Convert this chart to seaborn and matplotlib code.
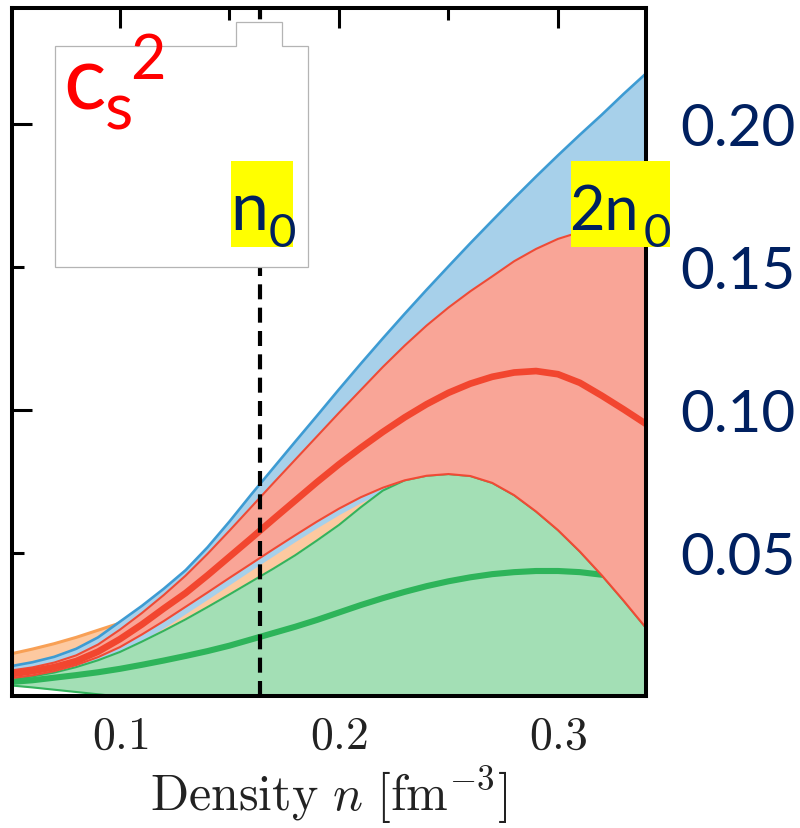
import matplotlib
matplotlib.use('Agg')
import matplotlib.pyplot as plt
import matplotlib.patches as mpatches
import seaborn as sns

sns.set_style('ticks')
plt.rcParams['font.family'] = ['Lato', 'DejaVu Sans']
plt.rcParams['mathtext.fontset'] = 'cm'

# density grid [fm^-3] and band edges / centre lines of c_s^2
dens = [0.05, 0.06, 0.07, 0.08, 0.09, 0.10, 0.11, 0.12, 0.13, 0.14,
        0.15, 0.16, 0.17, 0.18, 0.19, 0.20, 0.21, 0.22, 0.23, 0.24,
        0.25, 0.26, 0.27, 0.28, 0.29, 0.30, 0.31, 0.32, 0.33, 0.34]

blue_hi = [0.0104, 0.0118, 0.0137, 0.0165, 0.0205, 0.0260, 0.0315, 0.0375, 0.0440, 0.0520,
           0.0610, 0.0705, 0.0797, 0.0889, 0.0980, 0.1072, 0.1162, 0.1250, 0.1336, 0.1420,
           0.1502, 0.1583, 0.1662, 0.1740, 0.1816, 0.1890, 0.1962, 0.2032, 0.2105, 0.2175]
blue_lo = [0.0060, 0.0068, 0.0080, 0.0098, 0.0122, 0.0152, 0.0192, 0.0238, 0.0288, 0.0338,
           0.0389, 0.0440, 0.0490, 0.0540, 0.0588, 0.0634, 0.0676, 0.0712, 0.0745, 0.0770,
           0.0776, 0.0769, 0.0745, 0.0702, 0.0645, 0.0580, 0.0505, 0.0422, 0.0333, 0.0240]

orange_hi = [0.0147, 0.0164, 0.0183, 0.0205, 0.0230, 0.0255, 0.028, 0.032, 0.037, 0.043,
             0.049, 0.055, 0.061, 0.067, 0.073, 0.079, 0.084, 0.089, 0.093, 0.097,
             0.100, 0.102, 0.103, 0.104, 0.104, 0.103, 0.101, 0.099, 0.096, 0.093]

red_hi = [0.0089, 0.0100, 0.0117, 0.0142, 0.0180, 0.0232, 0.0290, 0.0353, 0.0421, 0.0497,
          0.0578, 0.0661, 0.0744, 0.0826, 0.0908, 0.0990, 0.1070, 0.1150, 0.1225, 0.1295,
          0.1358, 0.1415, 0.1467, 0.1520, 0.1563, 0.1598, 0.1622, 0.1636, 0.1644, 0.1648]
red_mid = [0.0076, 0.0087, 0.0101, 0.0122, 0.0155, 0.0199, 0.0250, 0.0306, 0.0360, 0.0422,
           0.0487, 0.0552, 0.0618, 0.0683, 0.0748, 0.0810, 0.0868, 0.0923, 0.0974, 0.1020,
           0.1060, 0.1092, 0.1116, 0.1131, 0.1136, 0.1125, 0.1095, 0.1050, 0.1002, 0.0952]
red_lo = [0.0062, 0.0072, 0.0087, 0.0108, 0.0136, 0.0171, 0.0215, 0.0262, 0.0312, 0.0362,
          0.0413, 0.0463, 0.0513, 0.0562, 0.0610, 0.0655, 0.0695, 0.0728, 0.0754, 0.0770,
          0.0776, 0.0769, 0.0745, 0.0702, 0.0645, 0.0580, 0.0505, 0.0422, 0.0333, 0.0240]

green_hi = [0.0057, 0.0068, 0.0082, 0.0101, 0.0125, 0.0154, 0.0190, 0.0228, 0.0268, 0.0311,
            0.0355, 0.0400, 0.0445, 0.0492, 0.0544, 0.0598, 0.0660, 0.0718, 0.0754, 0.0770,
            0.0776, 0.0769, 0.0745, 0.0702, 0.0645, 0.0580, 0.0505, 0.0422, 0.0333, 0.0240]
green_mid = [0.0049, 0.0055, 0.0064, 0.0073, 0.0083, 0.0095, 0.0109, 0.0124, 0.0140, 0.0157,
             0.0176, 0.0198, 0.0220, 0.0242, 0.0266, 0.0292, 0.0318, 0.0342, 0.0364, 0.0384,
             0.0401, 0.0415, 0.0426, 0.0433, 0.0437, 0.0437, 0.0433, 0.0424, 0.0412, 0.0398]
green_lo = [0.0037, 0.0030, 0.0022, 0.0014, 0.0006, -0.0002, -0.001, -0.002, -0.003, -0.004,
            -0.005, -0.006, -0.007, -0.008, -0.009, -0.01, -0.01, -0.01, -0.01, -0.01,
            -0.01, -0.01, -0.01, -0.01, -0.01, -0.01, -0.01, -0.01, -0.01, -0.01]

n_sat = 0.164
ytick_major = [0.10, 0.20]
ytick_minor = [0.05, 0.15]
xtick_major = [0.1, 0.2, 0.3]
xtick_minor = [0.15, 0.25]

navy = '#002060'

fig = plt.figure(figsize=(8, 8.29), dpi=100)
W, H = 800, 829
ax = fig.add_axes([12 / W, 1 - 697 / H, (646 - 12) / W, (697 - 8.5) / H])

# orange band (bottom layer)
ax.fill_between(dens, green_hi, orange_hi, color='#fdc9a0', lw=0, zorder=1)
sns.lineplot(x=dens, y=orange_hi, ax=ax, color='#f8a055', lw=2.2, zorder=1.2)

# blue band
ax.fill_between(dens, blue_lo, blue_hi, color='#a7d0ea', lw=0, zorder=2)
sns.lineplot(x=dens, y=blue_hi, ax=ax, color='#3d9bd3', lw=1.9, zorder=2.2)

# green band
ax.fill_between(dens, green_lo, green_hi, color='#a3dfb5', lw=0, zorder=3)
sns.lineplot(x=dens, y=green_hi, ax=ax, color='#33b35c', lw=1.5, zorder=3.2)
sns.lineplot(x=dens, y=green_lo, ax=ax, color='#33b35c', lw=1.5, zorder=3.2)
sns.lineplot(x=dens, y=green_mid, ax=ax, color='#2eb45a', lw=4.4, zorder=3.3)

# red band (top layer)
ax.fill_between(dens, red_lo, red_hi, color='#f9a597', lw=0, zorder=4)
sns.lineplot(x=dens, y=red_hi, ax=ax, color='#f04a35', lw=1.5, zorder=4.2)
sns.lineplot(x=dens, y=red_lo, ax=ax, color='#f04a35', lw=1.5, zorder=4.2)
sns.lineplot(x=dens, y=red_mid, ax=ax, color='#f2462f', lw=4.8, zorder=4.3)

ax.axvline(n_sat, color='black', lw=3.0, ls=(0, (3.6, 2.0)), zorder=5)

ax.set_xlim(0.0507, 0.3402)
ax.set_ylim(0, 0.2407)

for s in ax.spines.values():
    s.set_linewidth(2.9)
    s.set_color('black')
    s.set_zorder(6)

ax.set_xticks(xtick_major, labels=['$%g$' % v for v in xtick_major])
ax.set_xticks(xtick_minor, minor=True)
ax.set_yticks(ytick_major, labels=['%.2f' % v for v in ytick_major])
ax.set_yticks(ytick_minor, labels=['%.2f' % v for v in ytick_minor], minor=True)
ax.tick_params(which='both', direction='in', top=True, right=True, width=2.2, color='black')
ax.tick_params(which='major', length=14.5)
ax.tick_params(which='minor', length=8.5)
ax.tick_params(axis='x', which='major', labelsize=33, pad=13, labelcolor='#222222')
ax.tick_params(axis='y', which='both', labelleft=False, labelright=True,
               labelsize=42, pad=25, labelcolor=navy)
for lbl in ax.get_yticklabels(which='both'):
    lbl.set_fontfamily(['Lato', 'DejaVu Sans'])

ax.set_xlabel(r'$\mathrm{Density}\ n\ [\mathrm{fm}^{-3}]$', fontsize=36, color='#222222', labelpad=5)
ax.set_ylabel('')


def fx(px):
    return px / W


def fy(py):
    return 1 - py / H


# white inset box with a notch
box = mpatches.Polygon(
    [(fx(55), fy(268)), (fx(55), fy(47)), (fx(236), fy(47)), (fx(236), fy(23)),
     (fx(282), fy(23)), (fx(282), fy(47)), (fx(308), fy(47)), (fx(308), fy(268))],
    closed=True, transform=fig.transFigure, facecolor='white',
    edgecolor='#b4b4b4', lw=0.9, zorder=10)
fig.add_artist(box)

# yellow highlights
for x0, x1 in [(231, 293), (571, 670)]:
    fig.add_artist(mpatches.Rectangle((fx(x0), fy(248)), (x1 - x0) / W, (248 - 162) / H,
                                      transform=fig.transFigure, facecolor='#ffff00',
                                      edgecolor='none', zorder=11))

kw = dict(va='baseline', ha='left', zorder=12)
fig.text(fx(63), fy(110), 'c', fontsize=64, color='#ff0000', **kw)
fig.text(fx(105), fy(130), 's', fontsize=47, color='#ff0000', **kw)
fig.text(fx(130), fy(79), '2', fontsize=44, color='#ff0000', **kw)

fig.text(fx(230), fy(230), 'n', fontsize=49, color=navy, **kw)
fig.text(fx(269), fy(247), '0', fontsize=34, color=navy, **kw)

fig.text(fx(569), fy(230), '2n', fontsize=44, color=navy, **kw)
fig.text(fx(644), fy(247), '0', fontsize=34, color=navy, **kw)

fig.savefig('out.png', dpi=100)
